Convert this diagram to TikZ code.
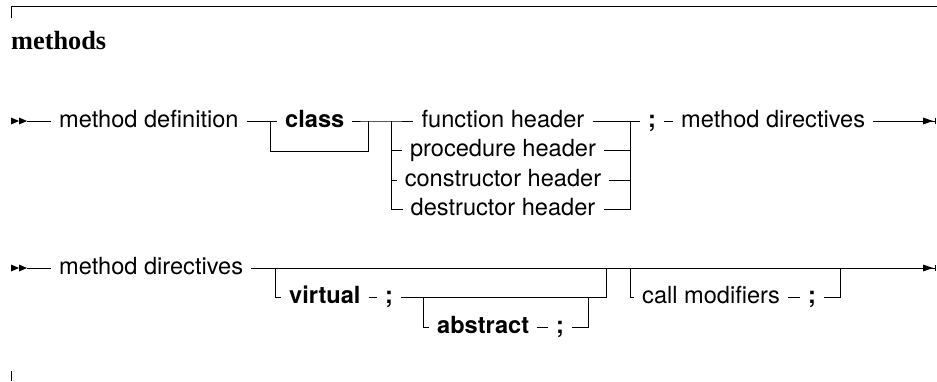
\documentclass[tikz,border=0pt]{standalone}
\usepackage{fontspec}
\setmainfont{TeX Gyre Heros}
\newfontfamily\titlefont{Liberation Serif}
\begin{document}
\begin{tikzpicture}[x=1pt,y=-1pt,
  every node/.style={inner xsep=8pt, inner ysep=0pt, text height=12pt, text depth=0pt, font=\fontsize{23.6}{28}\selectfont},
  term/.style={font=\fontsize{23.6}{28}\selectfont\bfseries},
  rail/.style={line width=0.9pt},
  startarr/.pic={\fill (0,-3.5)--(8,0)--(0,3.5)--cycle; \fill (8,-3.5)--(16,0)--(8,3.5)--cycle;},
  endarr/.pic={\fill (-13,-3.5)--(-3,0)--(-13,3.5)--cycle; \draw[line width=1pt] (-1,-3)--(-1,3);}
  ]
\useasboundingbox (0,0) rectangle (937,381);
% frame
\draw[rail] (11,18) -- (11,6) -- (937,6);
\draw[rail] (11,371) -- (11,381);
\node[anchor=base west, inner sep=0pt, font=\titlefont\fontsize{26.3}{30}\selectfont\bfseries] (title) at (11,49) {methods};

% ---------- row 1 ----------
\pic at (11,121) {startarr};
\coordinate (st1) at (27,121);
\node[anchor=west] (md1) at (51,121) {method definition};
\coordinate (b1) at (270,121);
\node[term,anchor=west] (cls) at (277,121) {class};
\coordinate (b2) at (368,121);
\coordinate (a1) at (391,121);
\node (fh) at (503,121) {function header};
\node (ph) at (503,150.5) {procedure header};
\node (ch) at (503,180) {constructor header};
\node (dh) at (503,209.5) {destructor header};
\coordinate (a2) at (630,121);
\node[term,anchor=west] (sc1) at (640,121) {;};
\node[anchor=west] (md2) at (673,121) {method directives};
\coordinate (e1) at (936,121);

\draw[rail] (st1) -- (md1.west);
\draw[rail] (md1.east) -- (cls.west);
\draw[rail] (b1) -- ++(0,30) -| (b2);
\draw[rail] (cls.east) -- (b2) -- (a1) -- (fh.west);
\draw[rail] (a1) |- (dh.west);
\draw[rail] (a1) |- (ph.west);
\draw[rail] (a1) |- (ch.west);
\draw[rail] (fh.east) -- (a2);
\draw[rail] (ph.east) -| (a2);
\draw[rail] (ch.east) -| (a2);
\draw[rail] (dh.east) -| (a2);
\draw[rail] (a2) -- (sc1.west);
\draw[rail] (sc1.east) -- (md2.west);
\draw[rail] (md2.east) -- (e1);
\pic at (e1) {endarr};

% ---------- row 2 ----------
\pic at (11,268) {startarr};
\coordinate (st2) at (27,268);
\node[anchor=west] (md3) at (51,268) {method directives};
\coordinate (c1) at (275,268);
\coordinate (c2) at (606,268);
\coordinate (c3) at (630,268);
\coordinate (c4) at (840,268);
\coordinate (e2) at (936,268);
\node[term,anchor=west] (vir) at (281,297.5) {virtual};
\node[term,anchor=west] (sc2) at (377,297.5) {;};
\coordinate (d1) at (423,297.5);
\node[term,anchor=west] (abs) at (429,327) {abstract};
\node[term,anchor=west] (sc3) at (548,327) {;};
\coordinate (d2) at (588,297.5);
\node[anchor=west] (cm) at (634,297.5) {call modifiers};
\node[term,anchor=west] (sc4) at (800,297.5) {;};

\draw[rail] (st2) -- (md3.west);
\draw[rail] (md3.east) -- (e2);
\draw[rail] (c1) |- (vir.west);
\draw[rail] (vir.east) -- (sc2.west);
\draw[rail] (sc2.east) -| (c2);
\draw[rail] (d1) |- (abs.west);
\draw[rail] (abs.east) -- (sc3.west);
\draw[rail] (sc3.east) -| (d2);
\draw[rail] (c3) |- (cm.west);
\draw[rail] (cm.east) -- (sc4.west);
\draw[rail] (sc4.east) -| (c4);
\pic at (e2) {endarr};
\end{tikzpicture}
\end{document}
